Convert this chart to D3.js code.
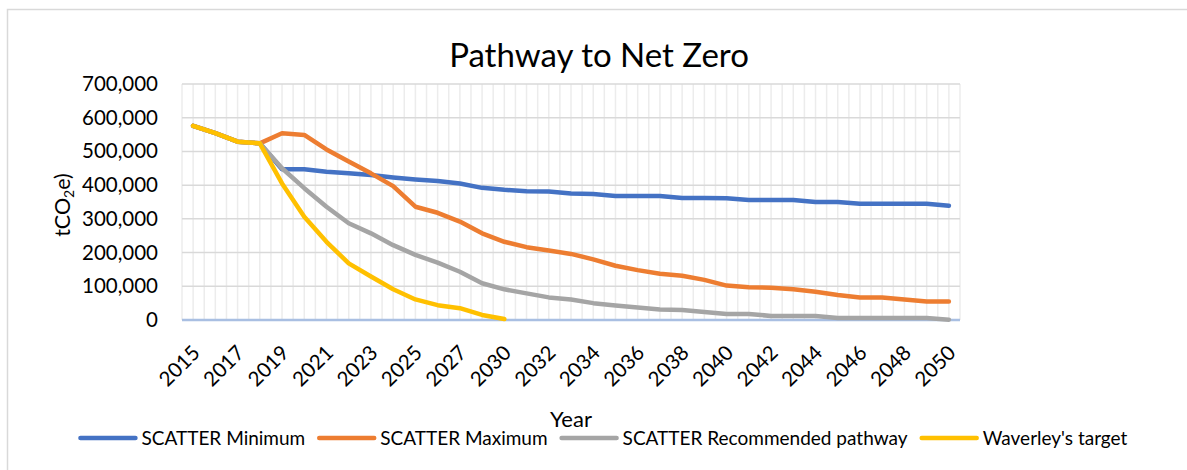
<!DOCTYPE html>
<html>
<head>
<meta charset="utf-8">
<script src="https://cdn.jsdelivr.net/npm/d3@7"></script>
<style>
  body { margin: 0; background: #fff; }
  svg { font-family: Lato, "Open Sans", sans-serif; }
</style>
</head>
<body>
<script>
// years on the category axis (2029 is not in the sheet)
var years = [2015, 2016, 2017, 2018, 2019, 2020, 2021, 2022, 2023, 2024, 2025, 2026, 2027, 2028,
             2030, 2031, 2032, 2033, 2034, 2035, 2036, 2037, 2038, 2039, 2040,
             2041, 2042, 2043, 2044, 2045, 2046, 2047, 2048, 2049, 2050];

var scatterMin = [576000, 554000, 529000, 524000, 447000, 447000, 440000, 435000, 430000, 423000,
                  417000, 412000, 405000, 392000, 386000, 382000, 381000, 375000, 374000, 368000,
                  368000, 368000, 362000, 362000, 361000, 356000, 356000, 356000, 350000, 350000,
                  345000, 345000, 345000, 345000, 339000];

var scatterMax = [576000, 554000, 529000, 524000, 554000, 549000, 506000, 470000, 435000, 397000,
                  336000, 318000, 292000, 257000, 232000, 216000, 206000, 196000, 180000, 161000,
                  148000, 137000, 131000, 119000, 102000, 97000, 96000, 91000, 84000, 74000,
                  67000, 67000, 61000, 55000, 55000];

var scatterRec = [576000, 554000, 529000, 524000, 450000, 391000, 336000, 287000, 257000, 222000,
                  193000, 170000, 143000, 109000, 91000, 79000, 67000, 61000, 50000, 43000,
                  37000, 31000, 30000, 24000, 18000, 18000, 12000, 12000, 12000, 6000,
                  6000, 6000, 6000, 6000, 1000];

// Waverley's target stops at 2030
var waverley = [576000, 554000, 529000, 524000, 405000, 306000, 232000, 168000, 129000, 91000,
                61000, 44000, 35000, 15000, 3000];

var yTicks = [0, 100000, 200000, 300000, 400000, 500000, 600000, 700000];

var seriesNames = ["SCATTER Minimum", "SCATTER Maximum", "SCATTER Recommended pathway", "Waverley's target"];
var seriesColors = ["#4472C4", "#ED7D31", "#A5A5A5", "#FFC000"];

var svgWidth = 1187;
var svgHeight = 470;

var plot = { left: 182, right: 960, top: 84, bottom: 320 };

var svg = d3.select("body")
    .append("svg")
    .attr("width", svgWidth)
    .attr("height", svgHeight);

// chart area border (runs off the right and bottom of the picture)
svg.append("rect")
    .attr("x", 7.5)
    .attr("y", 9.5)
    .attr("width", 1400)
    .attr("height", 600)
    .attr("fill", "none")
    .attr("stroke", "#d9d9d9")
    .attr("stroke-width", 1.5);

var x = d3.scaleBand()
    .domain(years)
    .range([plot.left, plot.right]);
var bw = x.bandwidth();

var y = d3.scaleLinear()
    .domain([0, 700000])
    .range([plot.bottom, plot.top]);

// vertical gridlines: band edges and band centres
var vLines = [];
years.forEach(function (yr) {
    vLines.push(x(yr));
    vLines.push(x(yr) + bw / 2);
});
vLines.push(plot.right);

svg.append("g")
    .selectAll("line")
    .data(vLines)
    .enter()
    .append("line")
    .attr("x1", d => d)
    .attr("x2", d => d)
    .attr("y1", plot.top)
    .attr("y2", plot.bottom)
    .attr("stroke", "#ececec")
    .attr("stroke-width", 1.5);

// horizontal gridlines
svg.append("g")
    .selectAll("line")
    .data(yTicks.filter(d => d > 0))
    .enter()
    .append("line")
    .attr("x1", plot.left)
    .attr("x2", plot.right)
    .attr("y1", d => y(d))
    .attr("y2", d => y(d))
    .attr("stroke", "#d9d9d9")
    .attr("stroke-width", 1.5);

// y axis labels
var leftAxis = d3.axisLeft(y)
    .tickValues(yTicks)
    .tickSize(0)
    .tickPadding(24)
    .tickFormat(d3.format(","));

var yAxisG = svg.append("g")
    .attr("transform", `translate(${plot.left},0)`)
    .call(leftAxis);
yAxisG.select(".domain").remove();
yAxisG.selectAll("text")
    .attr("font-size", 20.5)
    .attr("font-family", "Lato, 'Open Sans', sans-serif")
    .attr("fill", "#000");

// x axis labels, every other category
var bottomAxis = d3.axisBottom(x)
    .tickValues(years.filter((d, i) => i % 2 === 0))
    .tickSize(0);

var xAxisG = svg.append("g")
    .attr("transform", `translate(0,${plot.bottom})`)
    .call(bottomAxis);
xAxisG.select(".domain").remove();
xAxisG.selectAll("text")
    .attr("font-size", 20.5)
    .attr("font-family", "Lato, 'Open Sans', sans-serif")
    .attr("fill", "#000")
    .attr("text-anchor", "end")
    .attr("x", 0)
    .attr("y", 0)
    .attr("dy", "0.35em")
    .attr("transform", "translate(3,29) rotate(-45)");

// zero line
svg.append("line")
    .attr("x1", plot.left)
    .attr("x2", plot.right)
    .attr("y1", y(0))
    .attr("y2", y(0))
    .attr("stroke", "#a9bfe2")
    .attr("stroke-width", 2.5);

// series lines
var allSeries = [scatterMin, scatterMax, scatterRec, waverley];

var line = d3.line()
    .x((d, i) => x(years[i]) + bw / 2)
    .y(d => y(d));

svg.append("g")
    .selectAll("path")
    .data(allSeries)
    .enter()
    .append("path")
    .attr("d", d => line(d))
    .attr("fill", "none")
    .attr("stroke", (d, i) => seriesColors[i])
    .attr("stroke-width", 4.5)
    .attr("stroke-linecap", "round")
    .attr("stroke-linejoin", "round");

// title
svg.append("text")
    .attr("x", 599)
    .attr("y", 67)
    .attr("text-anchor", "middle")
    .attr("font-size", 33)
    .attr("fill", "#000")
    .text("Pathway to Net Zero");

// y axis title
var yTitle = svg.append("text")
    .attr("transform", "translate(70,205) rotate(-90)")
    .attr("text-anchor", "middle")
    .attr("font-size", 21.5)
    .attr("fill", "#000");
yTitle.append("tspan").text("tCO");
yTitle.append("tspan").attr("font-size", 14).attr("dy", 4).text("2");
yTitle.append("tspan").attr("dy", -4).text("e)");

// x axis title
svg.append("text")
    .attr("x", 571)
    .attr("y", 427)
    .attr("text-anchor", "middle")
    .attr("font-size", 22)
    .attr("fill", "#000")
    .text("Year");

// legend
var legendY = 438;
var lineLen = 55;
var legendG = svg.append("g");
var items = legendG.selectAll("g")
    .data(seriesNames)
    .enter()
    .append("g");

items.append("line")
    .attr("x1", 0)
    .attr("x2", lineLen)
    .attr("y1", 0)
    .attr("y2", 0)
    .attr("stroke", (d, i) => seriesColors[i])
    .attr("stroke-width", 4.5)
    .attr("stroke-linecap", "round");

items.append("text")
    .attr("x", lineLen + 6)
    .attr("dy", "0.35em")
    .attr("font-size", 19)
    .attr("fill", "#000")
    .text(d => d);

var widths = [];
items.each(function () {
    widths.push(this.getBBox().width);
});
var gap = 14;
var total = d3.sum(widths) + gap * (widths.length - 1);
var cur = 604 - total / 2;
items.attr("transform", function (d, i) {
    var t = `translate(${cur},${legendY})`;
    cur += widths[i] + gap;
    return t;
});
</script>
</body>
</html>
